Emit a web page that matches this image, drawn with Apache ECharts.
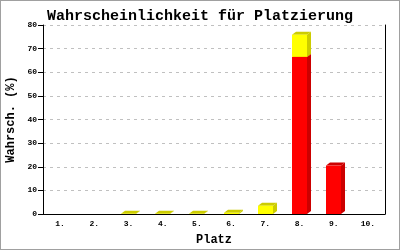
<!DOCTYPE html>
<html><head><meta charset="utf-8">
<script src="https://cdn.jsdelivr.net/npm/echarts@6/dist/echarts.min.js"></script>
<style>
html,body{margin:0;padding:0;background:#fff;}
#c{width:400px;height:250px;box-sizing:border-box;border:1px solid #a0a0a0;}
</style></head>
<body><div id="c"></div>
<script>
const categories = ['1.','2.','3.','4.','5.','6.','7.','8.','9.','10.'];
const redValues = [0,0,0,0,0,0,0,66.5,20.5,0];
const yellowValues = [0,0,0.1,0.1,0.1,0.5,3.5,9.4,0,0];
const yTicks = [0,10,20,30,40,50,60,70,80];

const FONT = '"Liberation Mono", "DejaVu Sans Mono", monospace';
const DX = 4, DY = 3, BW = 15;

function boxItem(front, side, top) {
  return function (params, api) {
    const cat = api.value(0), lo = api.value(1), hi = api.value(2);
    if (hi - lo <= 0) return null;
    const pLo = api.coord([cat, lo]);
    const pHi = api.coord([cat, hi]);
    const x0 = Math.round(pLo[0] - BW / 2), x1 = x0 + BW;
    const yb = pLo[1], yt = pHi[1];
    return {
      type: 'group',
      children: [
        {type: 'polygon', shape: {points: [[x1, yb], [x1 + DX, yb - DY], [x1 + DX, yt - DY], [x1, yt]]}, style: {fill: side}},
        {type: 'polygon', shape: {points: [[x0, yt], [x0 + DX, yt - DY], [x1 + DX, yt - DY], [x1, yt]]}, style: {fill: top}},
        {type: 'rect', shape: {x: x0, y: yt, width: BW, height: yb - yt}, style: {fill: front}}
      ]
    };
  };
}

const redData = categories.map((c, i) => [i, 0, redValues[i]]);
const yellowData = categories.map((c, i) => [i, redValues[i], redValues[i] + yellowValues[i]]);

const chart = echarts.init(document.getElementById('c'), null, {renderer: 'canvas'});
chart.setOption({
  animation: false,
  backgroundColor: '#fff',
  title: {
    text: 'Wahrscheinlichkeit für Platzierung',
    left: 'center', top: 3,
    textStyle: {fontFamily: FONT, fontSize: 15, fontWeight: 'bold', color: '#000'}
  },
  grid: {left: 42, right: 14, top: 24, bottom: 35, containLabel: false, outerBoundsMode: 'none'},
  xAxis: {
    type: 'category', data: categories,
    name: 'Platz', nameLocation: 'middle', nameGap: 20,
    nameTextStyle: {fontFamily: FONT, fontSize: 12, fontWeight: 'bold', color: '#000'},
    axisLine: {lineStyle: {color: '#000', width: 1}},
    axisTick: {show: false},
    axisLabel: {fontFamily: FONT, fontSize: 8, fontWeight: 'bold', color: '#000', margin: 6},
    splitLine: {show: false}
  },
  yAxis: [{
    type: 'value', min: 0, max: 80, interval: 10,
    name: 'Wahrsch. (%)', nameLocation: 'middle', nameGap: 25, nameRotate: 90,
    nameTextStyle: {fontFamily: FONT, fontSize: 12, fontWeight: 'bold', color: '#000'},
    axisLine: {show: true, lineStyle: {color: '#000'}},
    axisTick: {show: true, length: 5, lineStyle: {color: '#000'}},
    axisLabel: {fontFamily: FONT, fontSize: 8, fontWeight: 'bold', color: '#000', margin: 6,
      formatter: v => yTicks.includes(v) ? String(v) : ''},
    splitLine: {show: true, lineStyle: {color: '#c0c0c0', type: [3, 4]}}
  }, {
    type: 'value', min: 0, max: 80, interval: 10, position: 'right',
    axisLine: {show: true, lineStyle: {color: '#000'}},
    axisTick: {show: false}, axisLabel: {show: false}, splitLine: {show: false}
  }],
  series: [
    {type: 'custom', renderItem: boxItem('#ff0000', '#cc0000', '#cc0000'), data: redData,
      encode: {x: 0, y: [1, 2]}, clip: false},
    {type: 'custom', renderItem: boxItem('#ffff00', '#cccc00', '#cccc00'), data: yellowData,
      encode: {x: 0, y: [1, 2]}, clip: false}
  ]
});
</script></body></html>
